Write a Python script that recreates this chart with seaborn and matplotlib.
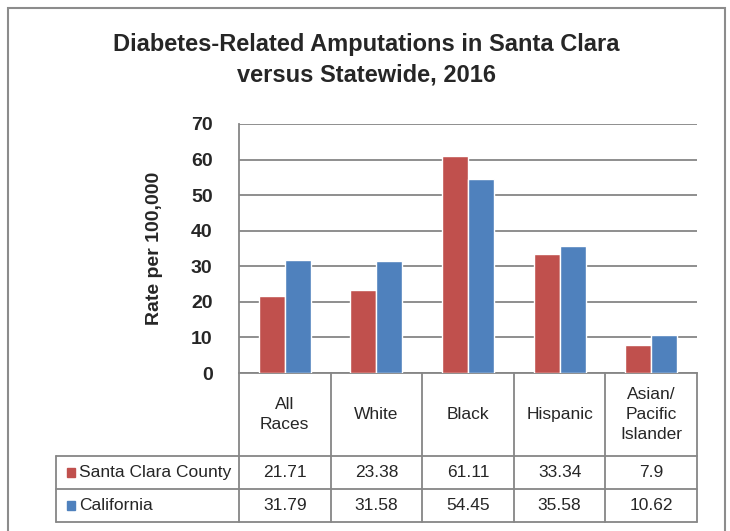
import seaborn as sns
import matplotlib.pyplot as plt
import pandas as pd
from matplotlib import font_manager
from matplotlib.lines import Line2D
from matplotlib.patches import Rectangle
import matplotlib.transforms as mtransforms

categories = ["All\nRaces", "White", "Black", "Hispanic", "Asian/\nPacific\nIslander"]
series = ["Santa Clara County", "California"]
santa_clara = [21.71, 23.38, 61.11, 33.34, 7.9]
california = [31.79, 31.58, 54.45, 35.58, 10.62]
colors = ["#C0504D", "#4F81BD"]

df = pd.DataFrame({
    "race": categories * 2,
    "rate": santa_clara + california,
    "area": [series[0]] * 5 + [series[1]] * 5,
})

sns.set_style("white")
names = {f.name for f in font_manager.fontManager.ttflist}
fam = ["Liberation Sans Narrow", "Liberation Sans", "DejaVu Sans"]
plt.rcParams["font.family"] = [f for f in fam if f in names] or ["DejaVu Sans"]

fig = plt.figure(figsize=(7.3, 5.31), dpi=100)
ax = fig.add_axes([239 / 730, 1 - 373 / 531, 458 / 730, 249 / 531])

sns.barplot(data=df, x="race", y="rate", hue="area", palette=colors,
            width=0.568, saturation=1, legend=False, ax=ax, zorder=3)

ax.set_ylim(0, 70)
ax.set_xlim(-0.5, 4.5)
ax.set_yticks(range(0, 71, 10))
ax.tick_params(axis="y", labelsize=14, pad=19, length=0)
for t in ax.get_yticklabels():
    t.set_fontweight("bold")
ax.set_xticks([])
ax.set_xlabel("")
ax.set_ylabel("Rate per 100,000", fontsize=14, fontweight="bold", labelpad=20)
ax.yaxis.grid(True, color="#868686", lw=1.3, zorder=0)
gray = "#868686"
for s in ["top", "right"]:
    ax.spines[s].set_visible(False)
for s in ["left", "bottom"]:
    ax.spines[s].set_color(gray)
    ax.spines[s].set_linewidth(1.3)

fig.suptitle("Diabetes-Related Amputations in Santa Clara\nversus Statewide, 2016",
             x=0.502, y=1 - 33 / 531, fontsize=17, fontweight="bold", linespacing=1.4)

# data table under the axis
trans = mtransforms.blended_transform_factory(ax.transData, ax.transAxes)
rows = [0, -0.333, -0.466, -0.598]
left = -2.5
lw = 1.3

def line(xs, ys):
    fig.add_artist(Line2D(xs, ys, transform=trans, color=gray, lw=lw, clip_on=False))

for i in range(6):
    line([i - 0.5, i - 0.5], [rows[0], rows[3]])
line([left, left], [rows[1], rows[3]])
for r in rows[1:]:
    line([left, 4.5], [r, r])

for i, cat in enumerate(categories):
    ax.text(i, (rows[0] + rows[1]) / 2, cat, transform=trans, ha="center",
            va="center", fontsize=12.5, linespacing=1.4, clip_on=False)

for k, (name, vals) in enumerate(zip(series, [santa_clara, california])):
    yc = (rows[k + 1] + rows[k + 2]) / 2
    fig.add_artist(Rectangle((left + 0.12, yc - 0.017), 0.09, 0.034,
                             transform=trans, color=colors[k], clip_on=False))
    ax.text(left + 0.255, yc, name, transform=trans, ha="left", va="center",
            fontsize=12.5, clip_on=False)
    for i, v in enumerate(vals):
        ax.text(i, yc, f"{v:g}", transform=trans, ha="center", va="center",
                fontsize=12.5, clip_on=False)

# chart border
fig.add_artist(Rectangle((8 / 730, -0.1), 717 / 730, 1.1 - 8 / 531,
                         transform=fig.transFigure, fill=False,
                         edgecolor="#8c8c8c", lw=1.5))

fig.savefig("out.png", dpi=100)
